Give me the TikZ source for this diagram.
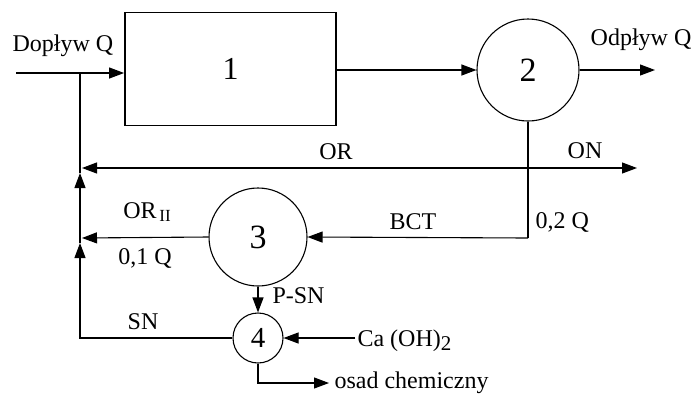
\documentclass[tikz,border=0pt]{standalone}
\usepackage{fontspec}
\setmainfont{Liberation Serif}
\usetikzlibrary{arrows.meta}
\begin{document}
\begin{tikzpicture}[x=1pt,y=-1pt,
  line width=1.1pt,
  flow/.style={-{Triangle[length=15pt,width=11pt]}},
  lbl/.style={font=\fontsize{24}{26}\selectfont, inner sep=0pt},
  unit/.style={circle, draw, line width=1.1pt, inner sep=0pt}]
\useasboundingbox (0,0) rectangle (698,394);
% units
\node[draw, line width=1.8pt, minimum width=211pt, minimum height=113pt, font=\fontsize{32}{34}\selectfont] (b1) at (230.5,69) {1};
\node[unit, minimum size=102pt, font=\fontsize{34}{36}\selectfont] (c2) at (528,70) {2};
\node[unit, minimum size=98pt, font=\fontsize{34}{36}\selectfont] (c3) at (258,237) {3};
\node[unit, minimum size=50pt, font=\fontsize{29}{31}\selectfont] (c4) at (258,338) {4};
% coordinates
\coordinate (in) at (16,73);
\coordinate (jin) at (80,73);
\coordinate (out) at (655,70);
\coordinate (jor) at (528,168);
\coordinate (j2) at (528,238);
\coordinate (orend) at (82,168);
\coordinate (on) at (637,168);
\coordinate (or2end) at (82,238);
\coordinate (sncorner) at (80,338);
\coordinate (up2) at (80,243);
\coordinate (up1) at (80,173);
\coordinate (osadcorner) at (258,383);
\coordinate (osad) at (329,383);
\coordinate (caend) at (355,338);
% labels
\node[lbl] (tdop) at (63,46) {Dopływ Q};
\node[lbl] (todp) at (641,40) {Odpływ Q};
\node[lbl] (tor) at (336,152) {OR};
\node[lbl] (ton) at (585,151) {ON};
\node[lbl] (tor2) at (147,212) {OR\raisebox{-0.35ex}{\fontsize{17}{18}\selectfont\,II}};
\node[lbl] (t01) at (145,258) {0,1 Q};
\node[lbl] (tbct) at (413,222) {BCT};
\node[lbl, anchor=west] (t02) at (535,222) {0,2 Q};
\node[lbl, anchor=west] (tpsn) at (272,296) {P-SN};
\node[lbl] (tsn) at (143,322) {SN};
\node[lbl, anchor=base west] (tca) at (357,346) {Ca (OH)\raisebox{-0.45ex}{\fontsize{21}{22}\selectfont 2}};
\node[lbl, anchor=west] (tosad) at (334,383) {osad chemiczny};
% connectors
\draw[flow] (in) -- (in -| b1.west);
\draw[flow] (b1.east |- c2.west) -- (c2.west);
\draw[flow] (c2.east) -- (out);
\draw (c2.south) -- (j2);
\draw[flow] (jor) -- (orend);
\draw[flow] (jor) -- (on);
\draw[flow] (j2) -- (c3.east);
\draw[flow] (c3.west) -- (or2end);
\draw[flow] (c3.south) -- (c4.north);
\draw[flow] (c4.west) -- (sncorner) -- (up2);
\draw[flow] (up2) -- (up1);
\draw (up1) -- (jin);
\draw[flow] (caend) -- (c4.east);
\draw[flow] (c4.south) -- (osadcorner) -- (osad);
\end{tikzpicture}
\end{document}
